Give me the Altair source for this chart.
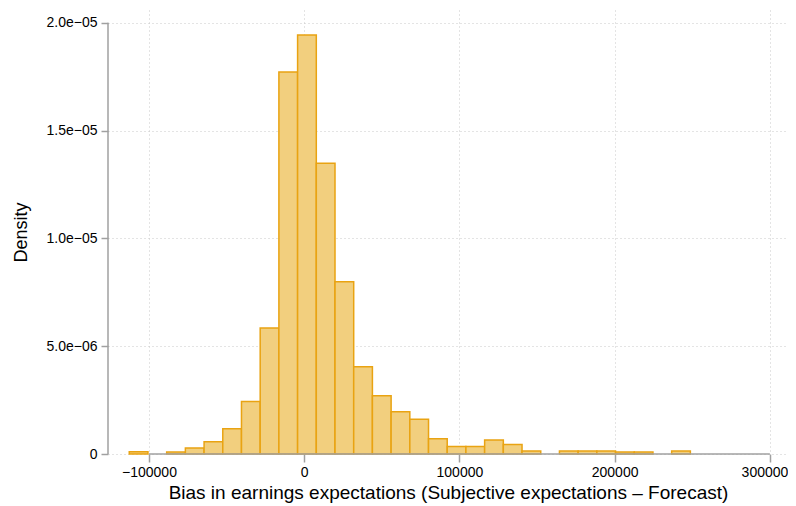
import altair as alt
import pandas as pd

# Histogram bin edges (31 edges -> 30 bins) and densities (x 1e-6)
bin_edges = [-112700, -100650, -88600, -76550, -64500, -52450, -40400, -28350,
             -16300, -4250, 7800, 19850, 31900, 43950, 56000, 68050, 80100,
             92150, 104200, 116250, 128300, 140350, 152400, 164450, 176500,
             188550, 200600, 212650, 224700, 236750, 248800]
density_e6 = [0.10, 0.0, 0.09, 0.28, 0.57, 1.17, 2.43, 5.84, 17.71, 19.43,
              13.48, 7.99, 4.05, 2.70, 1.96, 1.61, 0.71, 0.35, 0.35, 0.65,
              0.44, 0.14, 0.0, 0.14, 0.14, 0.14, 0.09, 0.09, 0.0, 0.14]

x_ticks = [-100000, 0, 100000, 200000, 300000]
y_ticks = [0, 5e-6, 1e-5, 1.5e-5, 2e-5]
y_tick_labels = ["0", "5.0e\u221206", "1.0e\u221205", "1.5e\u221205", "2.0e\u221205"]

x_title = "Bias in earnings expectations (Subjective expectations \u2013 Forecast)"
y_title = "Density"

bars = pd.DataFrame({
    "left": bin_edges[:-1],
    "right": bin_edges[1:],
    "density": [d * 1e-6 for d in density_e6],
    "base": [0.0] * len(density_e6),
})

x_scale = alt.Scale(domain=[-126400, 311700], nice=False, zero=False)
y_scale = alt.Scale(domain=[0, 20.59e-6], nice=False, zero=False)

FONT = "Liberation Sans"
label_map = "{" + ",".join(f"'{round(v*1e7)}': '{l}'" for v, l in zip(y_ticks, y_tick_labels)) + "}"
last_x = x_ticks[-1]

x_axis = alt.Axis(values=x_ticks, format="d", title=x_title, domain=False,
                  tickSize=8, tickColor="#a0a0a0", tickWidth=1.5,
                  labelPadding=3, labelFontSize=14, labelFont=FONT,
                  labelColor="#000000",
                  labelAlign={"condition": {"test": f"datum.value == {last_x}", "value": "right"}, "value": "center"},
                  labelOffset={"condition": {"test": f"datum.value == {last_x}", "value": 18}, "value": 0},
                  titleFont=FONT, titleFontSize=19,
                  titleFontWeight="normal", titleColor="#000000",
                  titleBaseline="alphabetic", titleY=44,
                  grid=True, gridColor="#c8c8c8", gridDash=[1, 3], gridWidth=1,
                  labelFlush=False)
y_axis = alt.Axis(values=y_ticks, title=y_title, domain=False,
                  labelExpr=label_map + "[''+round(datum.value*1e7)]",
                  tickSize=7, tickColor="#a0a0a0", tickWidth=1.5,
                  labelPadding=4, labelFontSize=14, labelFont=FONT,
                  labelColor="#000000", titleFont=FONT, titleFontSize=18,
                  titleFontWeight="normal", titleColor="#000000", titlePadding=16,
                  grid=True, gridColor="#c8c8c8", gridDash=[1, 3], gridWidth=1)

hist = alt.Chart(bars).transform_filter("datum.density > 0").mark_rect(
    fill="#f2cf7e", stroke="#e9a312", strokeWidth=1.5
).encode(
    x=alt.X("left:Q", scale=x_scale, axis=x_axis),
    x2="right:Q",
    y=alt.Y("density:Q", scale=y_scale, axis=y_axis),
    y2="base:Q",
)

yline_df = pd.DataFrame({"y0": [y_ticks[0]], "y1": [y_ticks[-1]]})
xline_df = pd.DataFrame({"x0": [x_ticks[0]], "x1": [x_ticks[-1]]})

yline = alt.Chart(yline_df).mark_rule(color="#a0a0a0", strokeWidth=1.5).encode(
    x=alt.value(0),
    y=alt.Y("y0:Q", scale=y_scale, axis=y_axis),
    y2="y1:Q",
)
xline = alt.Chart(xline_df).mark_rule(color="#a0a0a0", strokeWidth=1.5).encode(
    y=alt.value(444),
    x=alt.X("x0:Q", scale=x_scale, axis=x_axis),
    x2="x1:Q",
)

chart = alt.layer(hist, yline, xline).properties(
    width=680, height=444,
    background="#ffffff",
    autosize=alt.AutoSizeParams(type="none"),
    padding={"left": 100, "top": 2, "right": 0, "bottom": 50},
).configure_view(stroke=None)

chart.save("out.html", embed_options={"renderer": "svg", "actions": False})
